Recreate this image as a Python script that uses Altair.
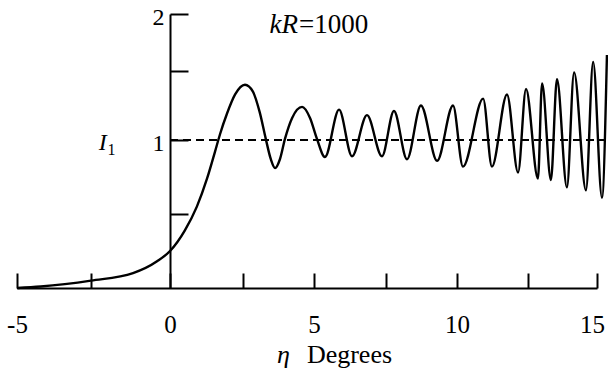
import altair as alt
import pandas as pd

# ---- data ----
eta = [-5.0, -4.2, -2.5, -1.17, -0.41, 0.0, 0.51, 0.92, 1.27, 1.54, 1.71, 1.95, 2.23, 2.57,
       2.85, 3.09, 3.30, 3.48, 3.63, 3.80, 3.98, 4.23, 4.58, 4.86, 5.10, 5.38, 5.87, 6.32,
       6.84, 7.36, 7.78, 8.24, 8.73, 9.30, 9.86, 10.21, 10.92, 11.23, 11.76, 12.15, 12.43,
       12.86, 13.01, 13.33, 13.55, 13.91, 14.17, 14.60, 14.86, 15.18, 15.36]
intensity = [0.00, 0.01, 0.05, 0.10, 0.18, 0.25, 0.39, 0.55, 0.74, 0.92, 1.04, 1.19, 1.33, 1.40,
             1.35, 1.20, 1.01, 0.87, 0.81, 0.87, 1.01, 1.16, 1.24, 1.16, 1.01, 0.885, 1.22, 0.89,
             1.18, 0.89, 1.21, 0.87, 1.25, 0.86, 1.25, 0.82, 1.30, 0.82, 1.33, 0.78, 1.37,
             0.74, 1.41, 0.73, 1.44, 0.68, 1.49, 0.66, 1.58, 0.61, 1.64]

ref_eta = [0.0, 15.3]
ref_level = [1.0, 1.0]

x_tick_values = [-5, -2.5, 0, 2.5, 5, 7.5, 10, 12.5, 15]
x_label_values = [-5, 0, 5, 10, 15]
y_tick_values = [0.5, 1, 1.5, 2]
y_label_values = [1, 2]

# ---- scales (piecewise, following the hand-drawn axes) ----
x_dom = [-5, -2.5, 0, 2.5, 5, 7.5, 10, 12.5, 15]
x_rng = [17, 91, 170, 243, 314, 386, 457, 528, 597]
y_dom = [0, 0.5, 1, 1.5, 2]
y_rng = [288, 214, 140, 71, 14]

xs = alt.Scale(domain=x_dom, range=x_rng, nice=False, zero=False)
ys = alt.Scale(domain=y_dom, range=y_rng, nice=False, zero=False)

W, H = 608, 374
SERIF = "Liberation Serif"

curve_df = pd.DataFrame({"eta": eta, "I": intensity})
ref_df = pd.DataFrame({"eta": ref_eta, "I": ref_level})

curve = alt.Chart(curve_df).mark_line(
    color="black", strokeWidth=2.4, interpolate="monotone", clip=False
).encode(
    x=alt.X("eta:Q", scale=xs, axis=alt.Axis(
        orient="bottom", offset=-(H - 288), values=x_label_values, ticks=False,
        domain=True, domainColor="black", domainWidth=2, grid=False, title=None,
        labelFont=SERIF, labelFontSize=25, labelColor="black", labelPadding=24,
        labelOffset={"condition": {"test": "datum.value == 15", "value": -5}, "value": 0},
        labelFlush=False, labelOverlap=False, labelExpr="'' + datum.value")),
    y=alt.Y("I:Q", scale=ys, axis=alt.Axis(
        orient="left", offset=-170, values=y_label_values, ticks=False, domain=False,
        grid=False, title=None, labelFont=SERIF, labelFontSize=24, labelColor="black",
        labelPadding=6, labelOffset=3, labelFlush=False, labelOverlap=False,
        labelExpr="'' + datum.value")),
)

ref = alt.Chart(ref_df).mark_line(
    color="black", strokeWidth=2, strokeDash=[8, 5], clip=False
).encode(
    x=alt.X("eta:Q", scale=xs, axis=alt.Axis(
        orient="bottom", offset=-(H - 288) - 15, values=x_tick_values, ticks=True,
        tickSize=15, tickWidth=2, tickColor="black", domain=False, labels=False,
        grid=False, title=None)),
    y=alt.Y("I:Q", scale=ys, axis=alt.Axis(
        orient="right", offset=-(W - 170), values=y_tick_values, ticks=True,
        tickSize=18, tickWidth=2, tickColor="black", domain=True, domainColor="black",
        domainWidth=2, labels=False, grid=False, title=None)),
)


def label(texts, xv, yv, size, align, italic=False):
    df = pd.DataFrame({"t": texts, "x": xv, "y": yv})
    kw = dict(font=SERIF, fontSize=size, align=align, baseline="alphabetic", color="black")
    if italic:
        kw["fontStyle"] = "italic"
    return alt.Chart(df).mark_text(**kw).encode(
        x=alt.X("x:Q", scale=xs, axis=None),
        y=alt.Y("y:Q", scale=ys, axis=None),
        text="t:N",
    )


kr_it = label(["kR"], [4.44], [1.83], 27, "right", italic=True)
kr_val = label(["=1000"], [4.47], [1.83], 27, "left")
i_main = label(["I"], [-2.0], [0.93], 24, "right", italic=True)
i_sub = label(["1"], [-1.98], [0.90], 16, "left")
eta_lbl = label(["η"], [4.15], [-0.507], 26, "right", italic=True)
deg_lbl = label(["Degrees"], [4.75], [-0.507], 26, "left")

chart = alt.layer(curve, ref, kr_it, kr_val, i_main, i_sub, eta_lbl, deg_lbl).resolve_axis(
    x="independent", y="independent"
).properties(
    width=W, height=H, padding=0, autosize=alt.AutoSizeParams(type="none"),
    background="white",
).configure_view(strokeWidth=0)

chart.save("out.html", embed_options={"renderer": "svg", "actions": False})
